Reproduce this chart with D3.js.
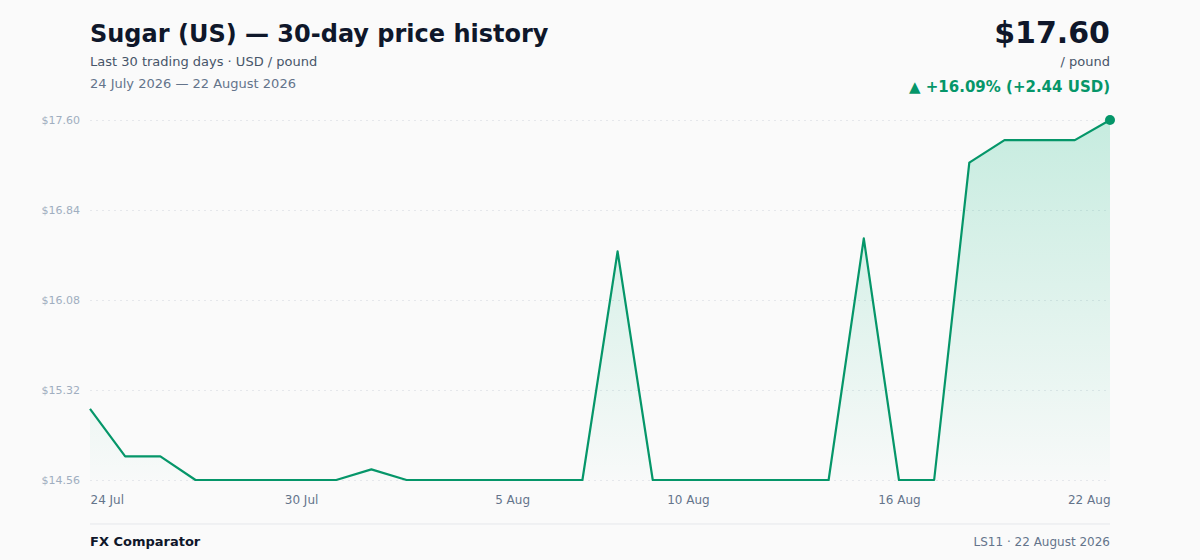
<!DOCTYPE html>
<html><head><meta charset="utf-8">
<script src="https://cdn.jsdelivr.net/npm/d3@7"></script>
<style>
html,body{margin:0;padding:0;background:#fafafa;}
svg{display:block;font-family:"DejaVu Sans",sans-serif;}
</style></head>
<body><svg id="c" width="1200" height="560"></svg>
<script>
const dates = ["2026-07-24","2026-07-25","2026-07-26","2026-07-27","2026-07-28","2026-07-29","2026-07-30","2026-07-31","2026-08-01","2026-08-02","2026-08-03","2026-08-04","2026-08-05","2026-08-06","2026-08-07","2026-08-08","2026-08-09","2026-08-10","2026-08-11","2026-08-12","2026-08-13","2026-08-14","2026-08-15","2026-08-16","2026-08-17","2026-08-18","2026-08-19","2026-08-20","2026-08-21","2026-08-22"];
const prices = [15.16,14.76,14.76,14.56,14.56,14.56,14.56,14.56,14.65,14.56,14.56,14.56,14.56,14.56,14.56,16.49,14.56,14.56,14.56,14.56,14.56,14.56,16.60,14.56,14.56,17.24,17.43,17.43,17.43,17.60];
const yTicks = [14.56,15.32,16.08,16.84,17.60];
const xTickDates = ["2026-07-24","2026-07-30","2026-08-05","2026-08-10","2026-08-16","2026-08-22"];

const parse = d3.utcParse("%Y-%m-%d");
const data = dates.map((d,i)=>({date:parse(d), v:prices[i]}));
const svg = d3.select("#c");
const L=90,R=1110,T=120,B=480;
const green="#059669";
const x = d3.scaleUtc().domain(d3.extent(data,d=>d.date)).range([L,R]);
const y = d3.scaleLinear().domain([14.56,17.60]).range([B,T]);

const defs = svg.append("defs");
const g = defs.append("linearGradient").attr("id","ag")
  .attr("gradientUnits","userSpaceOnUse").attr("x1",0).attr("x2",0).attr("y1",T).attr("y2",B);
g.append("stop").attr("offset","0%").attr("stop-color","#10b981").attr("stop-opacity",0.22);
g.append("stop").attr("offset","100%").attr("stop-color","#10b981").attr("stop-opacity",0.01);

// grid
const yAxis = d3.axisLeft(y).tickValues(yTicks).tickSize(-(R-L)).tickPadding(10).tickFormat(d=>"$"+d.toFixed(2));
const ya = svg.append("g").attr("transform",`translate(${L},0)`).call(yAxis);
ya.select(".domain").remove();
ya.selectAll(".tick line").attr("stroke","#e5e7eb").attr("stroke-dasharray","2,4");
ya.selectAll(".tick text").attr("fill","#a0aec0").attr("font-size",11).attr("font-family","DejaVu Sans, sans-serif").attr("x",-10).attr("text-anchor","end");

// area + line
svg.append("path").datum(data).attr("fill","url(#ag)")
  .attr("d",d3.area().x(d=>x(d.date)).y0(B).y1(d=>y(d.v)));
svg.append("path").datum(data).attr("fill","none").attr("stroke",green).attr("stroke-width",2.2).attr("stroke-linejoin","round")
  .attr("d",d3.line().x(d=>x(d.date)).y(d=>y(d.v)));
const last = data[data.length-1];
svg.append("circle").attr("cx",x(last.date)).attr("cy",y(last.v)).attr("r",5).attr("fill",green);

// x axis
const xa = svg.append("g").attr("transform",`translate(0,${B})`)
  .call(d3.axisBottom(x).tickValues(xTickDates.map(parse)).tickSize(0).tickPadding(15).tickFormat(d3.utcFormat("%-d %b")));
xa.select(".domain").remove();
xa.selectAll(".tick text").attr("fill","#64748b").attr("font-size",12).attr("font-family","DejaVu Sans, sans-serif")
  .attr("text-anchor",(d,i,n)=> i===0?"start":(i===n.length-1?"end":"middle"));

// header
svg.append("text").attr("x",L).attr("y",42).attr("font-size",24).attr("font-weight","bold").attr("fill","#0f172a").text("Sugar (US) — 30-day price history");
svg.append("text").attr("x",L).attr("y",66).attr("font-size",13).attr("fill","#475569").text("Last 30 trading days · USD / pound");
svg.append("text").attr("x",L).attr("y",88).attr("font-size",13).attr("fill","#64748b").text("24 July 2026 — 22 August 2026");
svg.append("text").attr("x",R).attr("y",43).attr("text-anchor","end").attr("font-size",30).attr("font-weight","bold").attr("fill","#0f172a").text("$"+last.v.toFixed(2));
svg.append("text").attr("x",R).attr("y",66).attr("text-anchor","end").attr("font-size",13).attr("fill","#475569").text("/ pound");
const ch = last.v - data[0].v, pct = ch/data[0].v*100;
svg.append("text").attr("x",R).attr("y",92).attr("text-anchor","end").attr("font-size",15).attr("font-weight","bold").attr("fill",green)
  .text(`▲ +${pct.toFixed(2)}% (+${ch.toFixed(2)} USD)`);

// footer
svg.append("line").attr("x1",L).attr("x2",R).attr("y1",524).attr("y2",524).attr("stroke","#e5e7eb").attr("stroke-width",1);
svg.append("text").attr("x",L).attr("y",546).attr("font-size",13).attr("font-weight","bold").attr("fill","#0f172a").text("FX Comparator");
svg.append("text").attr("x",R).attr("y",546).attr("text-anchor","end").attr("font-size",12).attr("fill","#64748b").text("LS11 · 22 August 2026");
</script></body></html>
